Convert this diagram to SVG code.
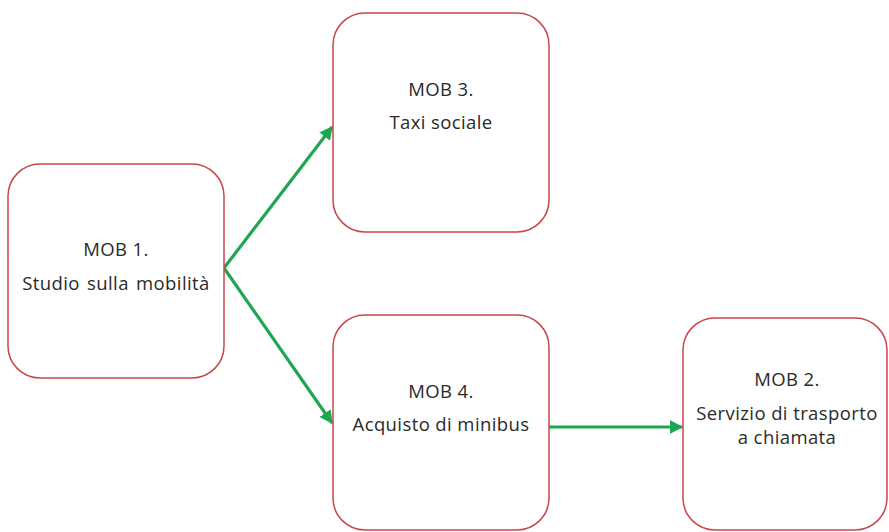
<svg xmlns="http://www.w3.org/2000/svg" width="889" height="532" viewBox="0 0 889 532">
<defs>
<style>
.box{fill:#ffffff;stroke:#c8464a;stroke-width:1.5}
.t{font-family:"Open Sans","Liberation Sans",sans-serif;font-size:18.5px;letter-spacing:0.4px;fill:#2a2a2a;text-anchor:middle}
.c{stroke:#1fa650;stroke-width:3.2;fill:none}
</style>
<marker id="ah" viewBox="0 0 10 10" refX="9" refY="5" markerWidth="4.2" markerHeight="4.2" orient="auto" markerUnits="strokeWidth">
<path d="M0,0 L10,5 L0,10 z" fill="#1fa650"/>
</marker>
</defs>
<rect width="889" height="532" fill="#ffffff"/>
<g id="connectors">
<line class="c" x1="224" y1="268" x2="332" y2="127" marker-end="url(#ah)"/>
<line class="c" x1="224" y1="268" x2="332" y2="423" marker-end="url(#ah)"/>
<line class="c" x1="549" y1="427" x2="682" y2="427" marker-end="url(#ah)"/>
</g>
<g id="mob1">
<rect class="box" x="8" y="164" width="216" height="214" rx="32"/>
<text class="t" x="116" y="256">MOB 1.</text>
<text class="t" x="116" y="290" style="word-spacing:2px">Studio sulla mobilità</text>
</g>
<g id="mob3">
<rect class="box" x="333" y="13" width="216" height="219" rx="32"/>
<text class="t" x="441" y="96">MOB 3.</text>
<text class="t" x="441" y="129">Taxi sociale</text>
</g>
<g id="mob4">
<rect class="box" x="333" y="315" width="216" height="215" rx="32"/>
<text class="t" x="441" y="398">MOB 4.</text>
<text class="t" x="441" y="431">Acquisto di minibus</text>
</g>
<g id="mob2">
<rect class="box" x="683" y="318" width="204" height="212" rx="32"/>
<text class="t" x="787" y="386">MOB 2.</text>
<text class="t" x="787" y="420">Servizio di trasporto</text>
<text class="t" x="787" y="444">a chiamata</text>
</g>
</svg>
